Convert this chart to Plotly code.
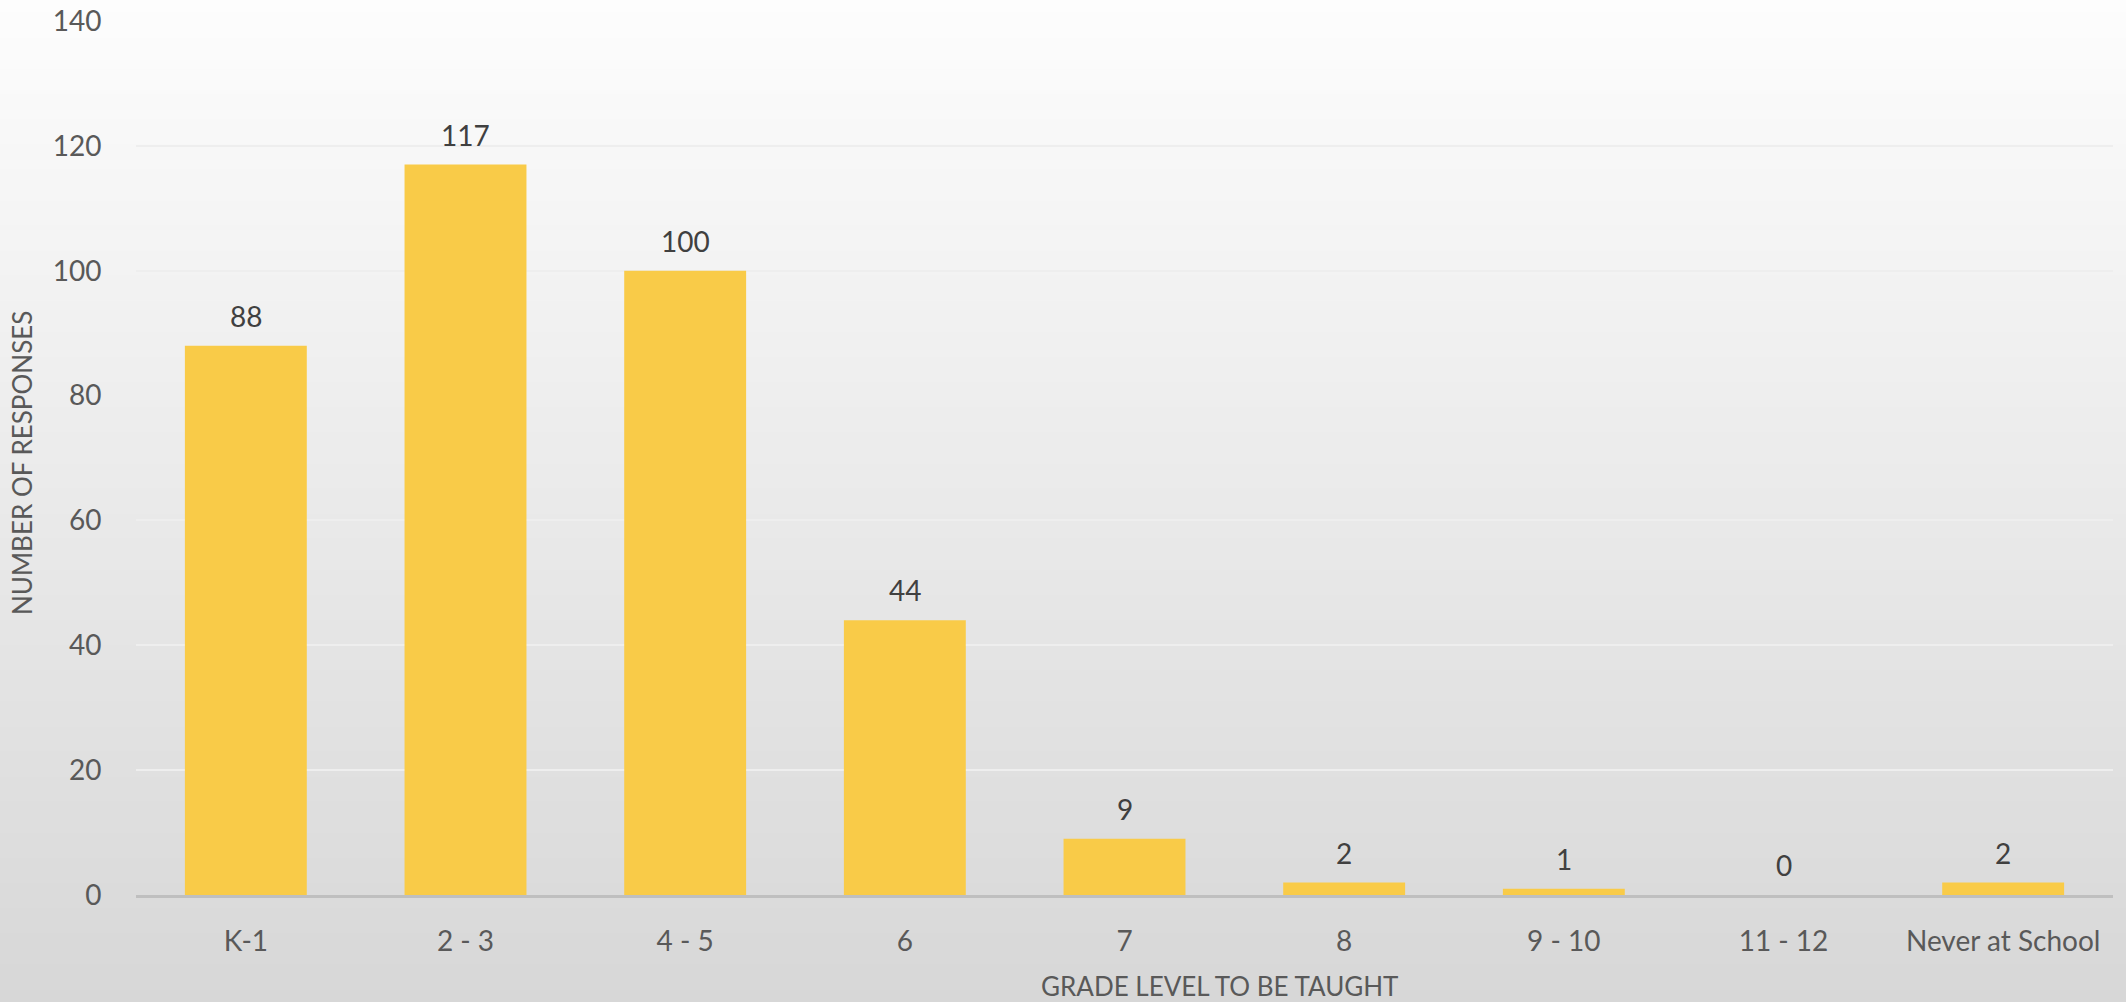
import plotly.graph_objects as go

categories = ["K-1", "2 - 3", "4 - 5", "6", "7", "8", "9 - 10", "11 - 12", "Never at School"]
responses = [88, 117, 100, 44, 9, 2, 1, 0, 2]
y_ticks = [0, 20, 40, 60, 80, 100, 120, 140]
x_title = "GRADE LEVEL TO BE TAUGHT"
y_title = "NUMBER OF RESPONSES"

W, H = 2126, 1002
ML, MR, MT, MB = 136, 13, 21, 107
PH = H - MT - MB

FONT = "Lato"

fig = go.Figure()
fig.add_trace(go.Bar(
    x=categories, y=responses,
    marker=dict(color="#f9cb48", line=dict(width=0)),
    hoverinfo="x+y",
))

# background vertical gradient (styling only)
shapes = []
N = 160
top_c, bot_c = 253, 215
for i in range(N):
    p0 = H * i / N
    p1 = H * (i + 1) / N + 1
    t = (i + 0.5) / N
    c = round(top_c + (bot_c - top_c) * t)
    y0 = (H - MB - p1) / PH
    y1 = (H - MB - p0) / PH
    shapes.append(dict(type="rect", xref="paper", yref="paper", x0=-0.2, x1=1.2,
                       y0=y0, y1=y1, fillcolor=f"rgb({c},{c},{c})",
                       line=dict(width=0), layer="below"))

annotations = []
for i, v in enumerate(responses):
    annotations.append(dict(x=i, y=v, xref="x", yref="y", text=str(v), showarrow=False,
                            yanchor="middle", yshift=30,
                            font=dict(family=FONT, size=28, color="#404040")))
annotations.append(dict(x=(1219 - ML) / (W - ML - MR), y=(H - MB - 986) / PH, xref="paper", yref="paper",
                        text=x_title, showarrow=False, xanchor="center", yanchor="middle",
                        font=dict(family=FONT, size=26, color="#595959")))
annotations.append(dict(x=(22 - ML) / (W - ML - MR), y=(H - MB - 463) / PH, xref="paper", yref="paper",
                        text=y_title, showarrow=False, textangle=-90, xanchor="center", yanchor="middle",
                        font=dict(family=FONT, size=26, color="#595959")))

fig.update_layout(
    width=W, height=H,
    margin=dict(l=ML, r=MR, t=MT, b=MB, pad=0, autoexpand=False),
    paper_bgcolor="rgb(215,215,215)",
    plot_bgcolor="rgba(0,0,0,0)",
    bargap=0.445,
    showlegend=False,
    shapes=shapes,
    annotations=annotations,
    font=dict(family=FONT, color="#595959"),
)
fig.update_xaxes(
    automargin=False,
    showline=True, linecolor="#bfbfbf", linewidth=2.5,
    showgrid=False, ticks="outside", ticklen=20, tickcolor="rgba(0,0,0,0)",
    tickfont=dict(family=FONT, size=28, color="#595959"),
)
fig.update_yaxes(
    automargin=False,
    range=[0, 140], tickvals=y_ticks, showline=False, zeroline=False,
    showgrid=True, gridcolor="#eeeeee", gridwidth=1.5,
    ticks="outside", ticklen=28, tickcolor="rgba(0,0,0,0)",
    tickfont=dict(family=FONT, size=28, color="#595959"),
)

fig.write_html("out.html", config={"displayModeBar": False},
               post_script="document.body.style.margin='0';document.body.style.overflow='hidden';")
